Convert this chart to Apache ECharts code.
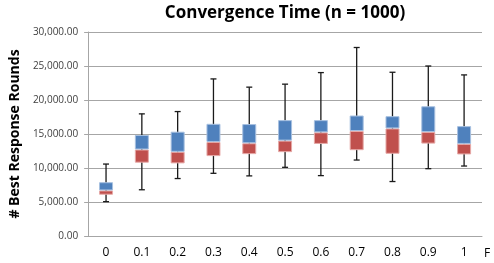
<!DOCTYPE html>
<html><head><meta charset="utf-8">
<script src="https://cdn.jsdelivr.net/npm/echarts@6/dist/echarts.min.js"></script>
<style>html,body{margin:0;padding:0;background:#fff}#c{width:494px;height:263px}</style>
</head><body><div id="c"></div>
<script>
const categories = ['0','0.1','0.2','0.3','0.4','0.5','0.6','0.7','0.8','0.9','1'];
const minVals    = [5050, 6800, 8450, 9220, 8840, 10100, 8880, 11170, 8010, 9900, 10290];
const q1Vals     = [6070, 10780, 10680, 11750, 12040, 12330, 13540, 12620, 12090, 13590, 11990];
const medianVals = [6700, 12720, 12380, 13830, 13640, 14030, 15240, 15440, 15820, 15290, 13540];
const q3Vals     = [7910, 14850, 15340, 16500, 16460, 17040, 17040, 17720, 17620, 19080, 16160];
const maxVals    = [10580, 17960, 18300, 23100, 21890, 22330, 24030, 27720, 24080, 25000, 23690];
const yTicks = [0, 5000, 10000, 15000, 20000, 25000, 30000];

const chart = echarts.init(document.getElementById('c'));
const lowerPart = q1Vals.map((q, i) => medianVals[i] - q);
const upperPart = q3Vals.map((q, i) => q - medianVals[i]);
const whiskers = categories.map((c, i) => [i, minVals[i], maxVals[i]]);

chart.setOption({
  animation: false,
  title: {
    text: 'Convergence Time (n = 1000)',
    left: 280, top: 0, textAlign: 'center',
    textStyle: {fontFamily: 'Open Sans', fontWeight: 'bold', fontSize: 17, color: '#000'}
  },
  grid: {left: 85, right: 12, top: 32, bottom: 27},
  xAxis: {
    type: 'category', data: categories,
    name: 'F', nameLocation: 'end', nameGap: 2,
    nameTextStyle: {fontFamily: 'Open Sans', fontSize: 12, color: '#000', verticalAlign: 'top', padding: [12, 0, 0, 0]},
    axisLine: {lineStyle: {color: '#A6A6A6', width: 1}},
    axisTick: {show: false},
    axisLabel: {fontFamily: 'Open Sans', fontSize: 12, color: '#000', margin: 11}
  },
  yAxis: {
    type: 'value', min: yTicks[0], max: yTicks[yTicks.length - 1], interval: yTicks[1] - yTicks[0],
    name: '# Best Response Rounds', nameLocation: 'middle', nameGap: 62, nameRotate: 90,
    nameTextStyle: {fontFamily: 'Open Sans', fontWeight: 'bold', fontSize: 14, color: '#000'},
    axisLine: {show: true, lineStyle: {color: '#A6A6A6', width: 1}},
    axisTick: {show: true, length: 4, lineStyle: {color: '#A6A6A6'}},
    splitLine: {lineStyle: {color: '#A6A6A6', width: 1}},
    axisLabel: {
      fontFamily: 'Open Sans', fontSize: 10, color: '#404040', margin: 10,
      formatter: v => v.toLocaleString('en-US', {minimumFractionDigits: 2, maximumFractionDigits: 2})
    }
  },
  series: [
    {
      type: 'custom', z: 1,
      data: whiskers,
      renderItem: function (params, api) {
        const x = api.value(0);
        const lo = api.coord([x, api.value(1)]);
        const hi = api.coord([x, api.value(2)]);
        const h = 3;
        const st = {stroke: '#1a1a1a', lineWidth: 1.3};
        return {type: 'group', children: [
          {type: 'line', shape: {x1: lo[0], y1: lo[1], x2: hi[0], y2: hi[1]}, style: st},
          {type: 'line', shape: {x1: hi[0] - h, y1: hi[1], x2: hi[0] + h, y2: hi[1]}, style: st},
          {type: 'line', shape: {x1: lo[0] - h, y1: lo[1], x2: lo[0] + h, y2: lo[1]}, style: st}
        ]};
      }
    },
    {type: 'bar', stack: 'b', z: 2, barWidth: 14, data: q1Vals, itemStyle: {color: 'rgba(0,0,0,0)'}, silent: true},
    {type: 'bar', stack: 'b', z: 2, barWidth: 14, data: lowerPart, itemStyle: {color: '#C0504D', borderColor: '#E6A9A7', borderWidth: 1}},
    {type: 'bar', stack: 'b', z: 2, barWidth: 14, data: upperPart, itemStyle: {color: '#4F81BD', borderColor: '#A7C0E0', borderWidth: 1}}
  ]
});
</script></body></html>
